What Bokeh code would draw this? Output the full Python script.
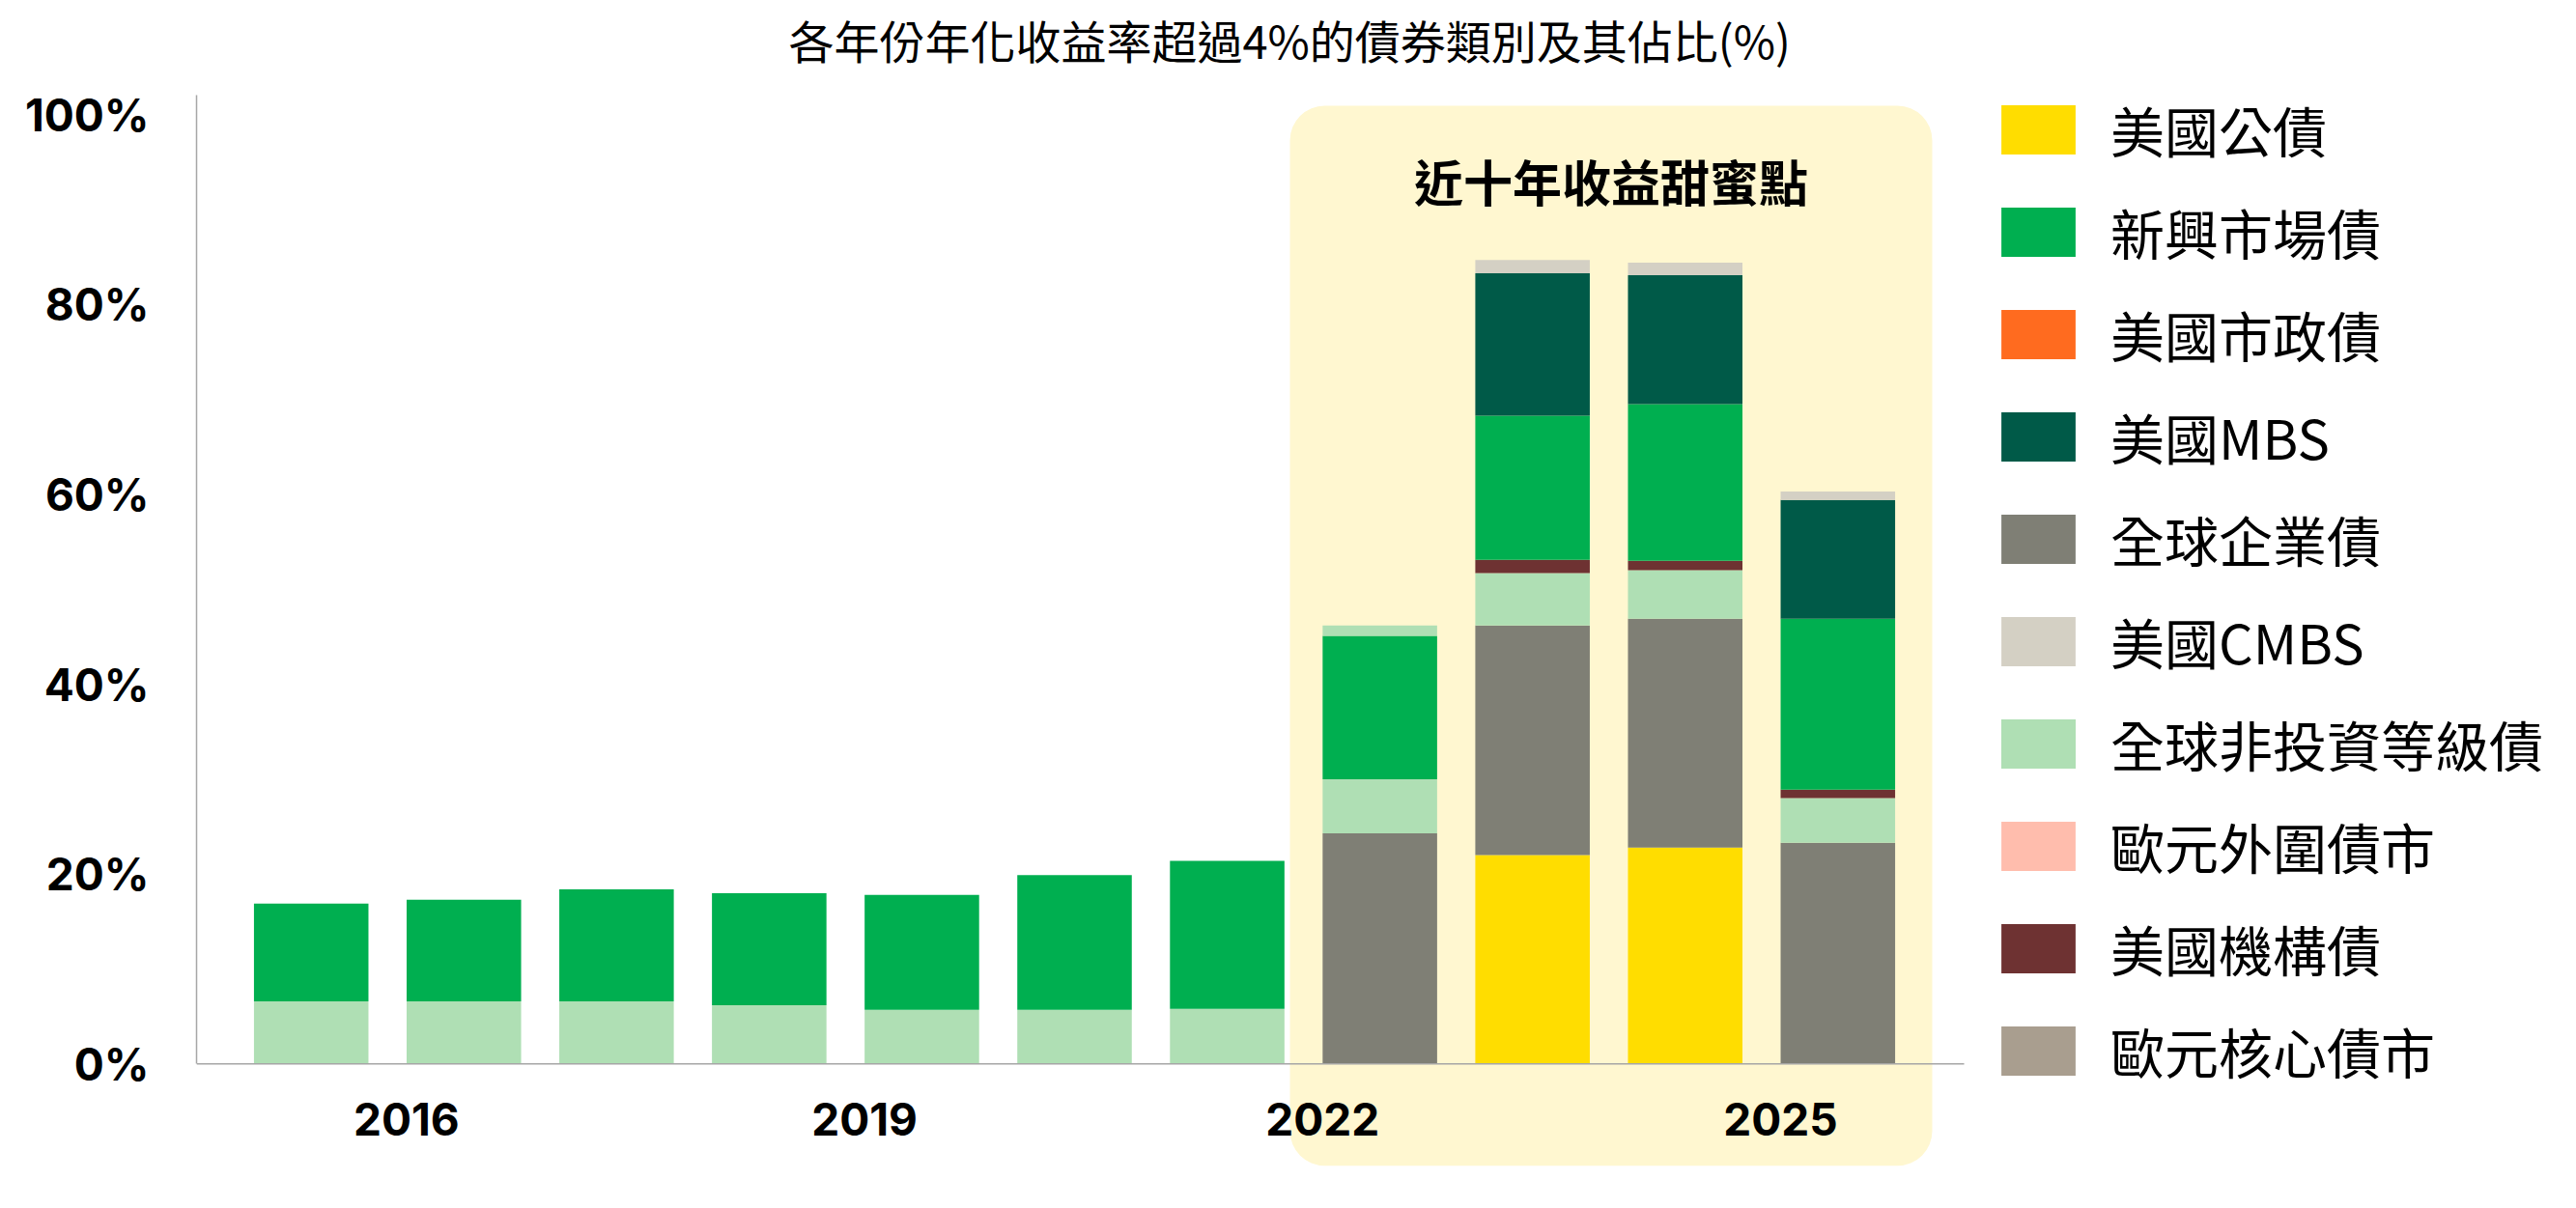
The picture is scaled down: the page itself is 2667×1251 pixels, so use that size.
from bokeh.plotting import figure
from bokeh.models import (ColumnDataSource, FixedTicker, PrintfTickFormatter, Legend,
                          LegendItem, BoxAnnotation, Range1d)
from bokeh.transform import dodge
from bokeh.core.properties import value
from bokeh.embed import file_html
from bokeh.resources import INLINE

# ---------------- data ----------------
title_text = "各年份年化收益率超過4%的債券類別及其佔比(%)"
highlight_text = "近十年收益甜蜜點"
years = [2015, 2016, 2017, 2018, 2019, 2020, 2021, 2022, 2023, 2024, 2025]
tick_labels = ["2016", "2019", "2022", "2025"]
y_ticks = [0, 20, 40, 60, 80, 100]
highlight_years = [2022, 2025]

us_treasury   = [0, 0, 0, 0, 0, 0, 0, 0, 22.0, 22.8, 0]
global_corp   = [0, 0, 0, 0, 0, 0, 0, 24.3, 24.2, 24.1, 23.3]
global_hy     = [6.6, 6.6, 6.6, 6.2, 5.7, 5.7, 5.8, 5.7, 5.5, 5.1, 4.7]
us_agency     = [0, 0, 0, 0, 0, 0, 0, 0, 1.4, 1.0, 0.9]
em_debt       = [10.3, 10.7, 11.8, 11.8, 12.1, 14.2, 15.6, 15.1, 15.2, 16.5, 18.0]
global_hy_top = [0, 0, 0, 0, 0, 0, 0, 1.1, 0, 0, 0]
us_mbs        = [0, 0, 0, 0, 0, 0, 0, 0, 15.0, 13.6, 12.5]
us_cmbs       = [0, 0, 0, 0, 0, 0, 0, 0, 1.4, 1.3, 0.9]
us_muni       = [0] * 11
euro_periph   = [0] * 11
euro_core     = [0] * 11

legend_labels = ["美國公債", "新興市場債", "美國市政債", "美國MBS", "全球企業債",
                 "美國CMBS", "全球非投資等級債", "歐元外圍債市", "美國機構債", "歐元核心債市"]

# ---------------- styling ----------------
colors = {
    "ust": "#FFDD00", "em": "#00AF50", "muni": "#FF6B1F", "mbs": "#005A48",
    "corp": "#7F7F75", "cmbs": "#D4D0C4", "hy": "#AFDFB4", "hy_top": "#AFDFB4",
    "periph": "#FFBDAD", "agency": "#6E3232", "core": "#A99E8F",
}
stack_keys = ["ust", "corp", "hy", "agency", "em", "hy_top", "mbs", "cmbs",
              "muni", "periph", "core"]
legend_keys = [["ust"], ["em"], ["muni"], ["mbs"], ["corp"], ["cmbs"],
               ["hy", "hy_top"], ["periph"], ["agency"], ["core"]]

BAR_SHIFT = 0.376
BAR_WIDTH = 0.75
PX_PER_X = 158.06
PX_PER_Y = 9.831
BORDER_LEFT = 203
FIG_W = 2651
FRAME_W = FIG_W - BORDER_LEFT
FRAME_H = 1208
X_START = 2014.625
X_END = X_START + FRAME_W / PX_PER_X
Y_START = -10.85
Y_END = Y_START + FRAME_H / PX_PER_Y
AXIS_TOP = 102.06
AXIS_GRAY = "#A6A6A6"
TITLE_X = X_START + (1335 - 203.3) / PX_PER_X
TITLE_Y = 107.95

source = ColumnDataSource(dict(
    year=years, ust=us_treasury, corp=global_corp, hy=global_hy, agency=us_agency,
    em=em_debt, hy_top=global_hy_top, mbs=us_mbs, cmbs=us_cmbs, muni=us_muni,
    periph=euro_periph, core=euro_core,
))

p = figure(frame_width=FRAME_W, frame_height=FRAME_H,
           x_range=Range1d(X_START, X_END), y_range=Range1d(Y_START, Y_END),
           min_border_left=BORDER_LEFT, min_border_top=0, min_border_bottom=10,
           min_border_right=0, toolbar_location=None, output_backend="svg")
p.outline_line_color = None
p.xgrid.visible = False
p.ygrid.visible = False
p.background_fill_color = "white"

# title
p.text(x=[TITLE_X], y=[TITLE_Y], text=[title_text],
       text_font=value("Noto Sans CJK TC"), text_font_size="47px",
       text_align="center", text_baseline="middle", text_color="#000000")

# highlight area
hl_left = highlight_years[0] + BAR_SHIFT - BAR_WIDTH / 2 - 0.214
hl_right = highlight_years[1] + BAR_SHIFT + BAR_WIDTH / 2 + 0.243
p.add_layout(BoxAnnotation(left=hl_left, right=hl_right, top=100.95, bottom=-10.72,
                           fill_color="#FFF7D0", fill_alpha=1.0, line_color=None,
                           border_radius=36, level="underlay"))
p.text(x=[(hl_left + hl_right) / 2], y=[93.1], text=[highlight_text],
       text_font=value("Noto Sans CJK TC"), text_font_style="bold",
       text_font_size="51px", text_align="center", text_baseline="middle",
       text_color="#000000")

# bars
renderers = p.vbar_stack(stack_keys, x=dodge("year", BAR_SHIFT, range=p.x_range),
                         width=BAR_WIDTH, source=source,
                         fill_color=[colors[k] for k in stack_keys], line_color=None)
rmap = dict(zip(stack_keys, renderers))

# baseline
p.segment(x0=[X_START], y0=[0], x1=[years[-1] + 1.203], y1=[0],
          line_color=AXIS_GRAY, line_width=1.5)

# y axis
yax = p.yaxis[0]
yax.ticker = FixedTicker(ticks=y_ticks)
yax.formatter = PrintfTickFormatter(format="%d%%")
yax.bounds = (0, AXIS_TOP)
yax.axis_line_color = AXIS_GRAY
yax.axis_line_width = 1.5
yax.major_tick_line_color = None
yax.minor_tick_line_color = None
yax.major_tick_out = 0
yax.major_tick_in = 0
yax.major_label_standoff = 49
yax.major_label_text_font = "Inter"
yax.major_label_text_font_style = "bold"
yax.major_label_text_font_size = "46px"
yax.major_label_text_color = "#000000"

# x axis
xax = p.xaxis[0]
xax.ticker = FixedTicker(ticks=[int(t) for t in tick_labels])
xax.major_label_overrides = {int(t): t for t in tick_labels}
xax.axis_line_color = None
xax.major_tick_line_color = None
xax.minor_tick_line_color = None
xax.major_tick_out = 0
xax.major_label_standoff = -67
xax.major_label_text_font = "Inter"
xax.major_label_text_font_style = "bold"
xax.major_label_text_font_size = "46px"
xax.major_label_text_color = "#000000"

# legend (inside the frame, anchored by its bottom-left corner in screen px)
items = [LegendItem(label=lab, renderers=[rmap[k] for k in keys])
         for lab, keys in zip(legend_labels, legend_keys)]
legend = Legend(items=items, location=(1859, 80), orientation="vertical",
                glyph_width=96, glyph_height=64, label_height=51,
                label_standoff=27, spacing=25, padding=0, margin=0,
                border_line_color=None, background_fill_alpha=0,
                label_text_font="Noto Sans CJK TC", label_text_font_size="56px",
                label_text_color="#000000")
p.add_layout(legend)

open("out.html", "w").write(file_html(p, INLINE))
